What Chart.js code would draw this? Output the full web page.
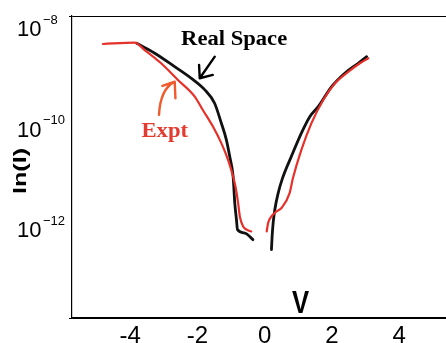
<!DOCTYPE html>
<html><head><meta charset="utf-8">
<script src="https://cdn.jsdelivr.net/npm/chart.js@4/dist/chart.umd.min.js"></script>
<style>html,body{margin:0;padding:0;background:#fff;overflow:hidden}canvas{display:block}</style>
</head><body>
<canvas id="c" width="446" height="343"></canvas>
<script>
// Tick labels
const xTickValues = [-4, -2, 0, 2, 4];
const yTickValues = [1e-8, 1e-10, 1e-12];
const yTickBase = '10';
const yTickSup = ['\u22128', '\u221210', '\u221212'];

// "Real Space" (black) series
const realLeftV = [-3.81, -3.27, -2.68, -2.18, -1.78, -1.49, -1.29, -1.14, -1.04, -0.94, -0.89, -0.84, -0.81, -0.59, -0.35];
const realLeftI = [2.87e-9, 1.82e-9, 9.86e-10, 5.75e-10, 3.40e-10, 1.85e-10, 7.43e-11, 3.47e-11, 1.61e-11, 6.49e-12, 1.92e-12, 8.95e-13, 5.68e-13, 4.88e-13, 3.60e-13];
const realRightV = [0.20, 0.22, 0.25, 0.30, 0.40, 0.52, 0.79, 1.09, 1.34, 1.59, 1.99, 2.38, 2.78, 3.03];
const realRightI = [2.28e-13, 4.18e-13, 7.71e-13, 1.42e-12, 3.03e-12, 5.75e-12, 1.61e-11, 4.71e-11, 1.00e-10, 1.58e-10, 3.95e-10, 7.29e-10, 1.15e-9, 1.56e-9];

// "Expt" (red) series
const exptLeftV = [-4.81, -3.87, -3.57, -3.08, -2.58, -2.08, -1.84, -1.54, -1.29, -1.09, -0.94, -0.87, -0.79, -0.74, -0.64, -0.54, -0.40];
const exptLeftI = [2.78e-9, 2.95e-9, 2.11e-9, 1.15e-9, 5.37e-10, 2.51e-10, 1.36e-10, 6.37e-11, 2.98e-11, 1.39e-11, 6.49e-12, 4.10e-12, 1.92e-12, 1.04e-12, 6.59e-13, 5.68e-13, 5.25e-13];
const exptRightV = [0.06, 0.10, 0.20, 0.35, 0.50, 0.74, 0.84, 1.09, 1.39, 1.74, 2.09, 2.49, 2.83, 3.08];
const exptRightI = [5.25e-13, 7.71e-13, 1.04e-12, 1.31e-12, 1.53e-12, 3.03e-12, 6.03e-12, 2.19e-11, 7.43e-11, 2.15e-10, 4.62e-10, 7.85e-10, 1.15e-9, 1.45e-9];

const BLACK = '#111111';
const RED = '#e6302a';

function pts(v, i) { return v.map((x, k) => ({ x: x, y: i[k] })); }
function line(data, color, w) {
  return { data: data, borderColor: color, borderWidth: w, pointRadius: 0, cubicInterpolationMode: 'monotone', fill: false, borderCapStyle: 'round', borderJoinStyle: 'round' };
}

function drawText(ctx, str, x, y, font, color, sx, align) {
  ctx.save();
  ctx.translate(x, y);
  ctx.scale(sx, 1);
  ctx.font = font;
  ctx.fillStyle = color;
  ctx.textAlign = align;
  ctx.textBaseline = 'alphabetic';
  ctx.fillText(str, 0, 0);
  ctx.restore();
}

const decor = {
  id: 'decor',
  afterDraw(chart) {
    const ctx = chart.ctx;
    const xs = chart.scales.x, ys = chart.scales.y;
    const at = (v, e) => [xs.getPixelForValue(v), ys.getPixelForValue(Math.pow(10, e))];
    const left = chart.chartArea.left;

    // y tick labels with superscripts
    yTickValues.forEach((val, k) => {
      const py = ys.getPixelForValue(val);
      const x0 = left - 55;
      ctx.save();
      ctx.font = '22px "Liberation Sans", Arial, sans-serif';
      const w = ctx.measureText(yTickBase).width;
      ctx.restore();
      drawText(ctx, yTickBase, x0, py + 20, '22px "Liberation Sans", Arial, sans-serif', '#000', 1, 'left');
      drawText(ctx, yTickSup[k], x0 + w + 1.5, py + 7.5, '13px "Liberation Sans", Arial, sans-serif', '#000', 1, 'left');
    });

    // y axis title
    ctx.save();
    ctx.translate(21.5, (chart.chartArea.top + chart.chartArea.bottom) / 2 + 4);
    ctx.rotate(-Math.PI / 2);
    ctx.scale(1.4, 1);
    ctx.font = 'bold 18px "Liberation Sans", Arial, sans-serif';
    ctx.fillStyle = '#000';
    ctx.textAlign = 'center';
    ctx.textBaseline = 'middle';
    ctx.fillText('ln(I)', 0, 0);
    ctx.restore();

    // x axis title "V" inside the plot
    let p = at(1.064, -13.893);
    drawText(ctx, 'V', p[0], p[1], 'bold 32px "Liberation Sans", Arial, sans-serif', '#000', 0.8, 'center');

    // Annotation labels
    p = at(-2.486, -8.575);
    drawText(ctx, 'Real Space', p[0], p[1], 'bold 20px "Liberation Serif", "Times New Roman", serif', '#000', 1.13, 'left');
    p = at(-3.666, -10.395);
    drawText(ctx, 'Expt', p[0], p[1], 'bold 21px "Liberation Serif", "Times New Roman", serif', '#e33b30', 1.08, 'left');

    // Black arrow
    ctx.save();
    ctx.strokeStyle = '#000';
    ctx.lineWidth = 2.4;
    ctx.lineCap = 'round';
    ctx.lineJoin = 'round';
    let a = at(-1.485, -8.808), b = at(-1.932, -9.236), h1 = at(-1.545, -9.171), h2 = at(-1.952, -8.972);
    ctx.beginPath();
    ctx.moveTo(a[0], a[1]); ctx.lineTo(b[0], b[1]);
    ctx.moveTo(h1[0], h1[1]); ctx.lineTo(b[0], b[1]); ctx.lineTo(h2[0], h2[1]);
    ctx.stroke();

    // Orange arrow
    ctx.strokeStyle = '#f05a2c';
    a = at(-3.143, -9.964); const c = at(-3.105, -9.45); b = at(-2.676, -9.304);
    h1 = at(-3.042, -9.389); h2 = at(-2.655, -9.633);
    ctx.beginPath();
    ctx.moveTo(a[0], a[1]); ctx.quadraticCurveTo(c[0], c[1], b[0], b[1]);
    ctx.moveTo(h1[0], h1[1]); ctx.lineTo(b[0], b[1]); ctx.lineTo(h2[0], h2[1]);
    ctx.stroke();
    ctx.restore();
  }
};

new Chart(document.getElementById('c'), {
  type: 'line',
  data: {
    datasets: [
      line(pts(exptLeftV, exptLeftI), RED, 2.2),
      line(pts(exptRightV, exptRightI), RED, 2.2),
      line(pts(realLeftV, realLeftI), BLACK, 2.8),
      line(pts(realRightV, realRightI), BLACK, 2.8)
    ]
  },
  options: {
    responsive: false,
    animation: false,
    layout: { padding: { top: 16, left: 0, right: 0, bottom: 0 } },
    plugins: { legend: { display: false }, tooltip: { enabled: false } },
    scales: {
      x: {
        type: 'linear', min: -5.73, max: 5.39,
        afterBuildTicks: s => { s.ticks = xTickValues.map(v => ({ value: v })); },
        afterFit: s => { s.height = 25; },
        grid: { display: true, color: 'rgba(0,0,0,0)', drawTicks: false, drawOnChartArea: false },
        border: { display: true, color: '#000', width: 1.2 },
        ticks: { color: '#000', font: { family: '"Liberation Sans", Arial, sans-serif', size: 24 }, padding: 4, maxRotation: 0, autoSkip: false }
      },
      y: {
        type: 'logarithmic', min: 1e-14, max: 1e-8,
        afterBuildTicks: s => { s.ticks = [{ value: 1e-14 }, { value: 1e-8 }]; },
        afterFit: s => { s.width = 72; },
        ticks: { display: false },
        grid: { display: true, color: '#000', lineWidth: 1, drawTicks: true, tickLength: 3, drawOnChartArea: true },
        border: { display: true, color: '#000', width: 1.2 }
      }
    }
  },
  plugins: [decor]
});
</script>
</body></html>
